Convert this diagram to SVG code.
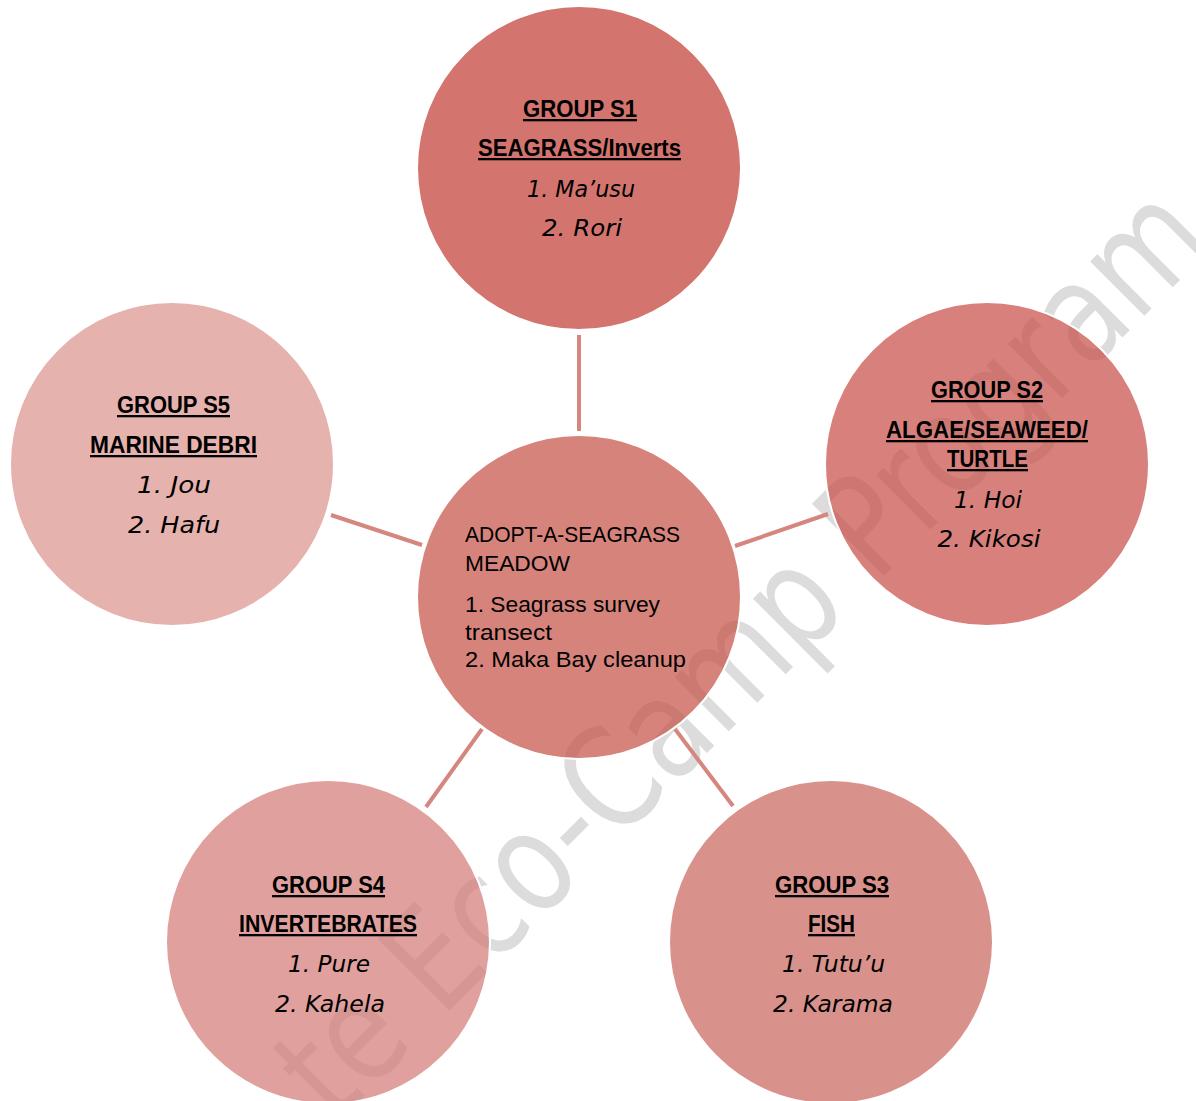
<svg xmlns="http://www.w3.org/2000/svg" width="1196" height="1101" viewBox="0 0 1196 1101">
<style>
.node circle { stroke: #ffffff; stroke-width: 2; fill-opacity: 0.7; }
.hd { font-family: "Liberation Sans", Arial, sans-serif; font-weight: bold; font-size: 23px; fill: #000; text-anchor: middle; text-decoration: underline; }
.nm { font-family: "DejaVu Sans", "Liberation Sans", sans-serif; font-style: italic; font-size: 23px; fill: #000; text-anchor: middle; }
.ct { font-family: "Liberation Sans", Arial, sans-serif; font-size: 22.5px; fill: #000; }
.conn line { stroke: #d4867f; stroke-width: 4; }
.wm { font-family: "DejaVu Sans", sans-serif; font-size: 140px; fill: #dcdcdc; }
</style>
<rect width="1196" height="1101" fill="#ffffff"/>
<text class="wm" transform="translate(335,1125) rotate(-45)" textLength="1245" lengthAdjust="spacingAndGlyphs">te Eco-Camp Program</text>
<g id="connectors" class="conn">
  <line x1="579" y1="335" x2="579" y2="431"/>
  <line x1="331" y1="515" x2="422" y2="545"/>
  <line x1="735" y1="546" x2="828" y2="514"/>
  <line x1="482" y1="729" x2="426" y2="807"/>
  <line x1="675" y1="729" x2="733" y2="806"/>
</g>
<g id="node-s1" class="node">
  <circle cx="579" cy="168" r="162" fill="#c13a31"/>
  <text class="hd" x="580" y="117" textLength="114" lengthAdjust="spacingAndGlyphs">GROUP S1</text>
  <text class="hd" x="579.5" y="156" textLength="203" lengthAdjust="spacingAndGlyphs">SEAGRASS/Inverts</text>
  <text class="nm" x="581" y="197" textLength="108" lengthAdjust="spacingAndGlyphs">1. Ma’usu</text>
  <text class="nm" x="582" y="236" textLength="80" lengthAdjust="spacingAndGlyphs">2. Rori</text>
</g>
<g id="node-center" class="node">
  <circle cx="579" cy="597" r="162" fill="#c44e45"/>
  <text class="ct" x="465" y="542" textLength="215" lengthAdjust="spacingAndGlyphs">ADOPT-A-SEAGRASS</text>
  <text class="ct" x="465" y="571" textLength="105" lengthAdjust="spacingAndGlyphs">MEADOW</text>
  <text class="ct" x="465" y="612" textLength="195" lengthAdjust="spacingAndGlyphs">1. Seagrass survey</text>
  <text class="ct" x="465" y="640" textLength="87" lengthAdjust="spacingAndGlyphs">transect</text>
  <text class="ct" x="465" y="667" textLength="221" lengthAdjust="spacingAndGlyphs">2. Maka Bay cleanup</text>
</g>
<g id="node-s2" class="node">
  <circle cx="987" cy="464" r="162" fill="#c74c44"/>
  <text class="hd" x="987" y="398" textLength="112" lengthAdjust="spacingAndGlyphs">GROUP S2</text>
  <text class="hd" x="987" y="438" textLength="202" lengthAdjust="spacingAndGlyphs">ALGAE/SEAWEED/</text>
  <text class="hd" x="987.5" y="467" textLength="81" lengthAdjust="spacingAndGlyphs">TURTLE</text>
  <text class="nm" x="988" y="508" textLength="68" lengthAdjust="spacingAndGlyphs">1. Hoi</text>
  <text class="nm" x="989" y="547" textLength="103" lengthAdjust="spacingAndGlyphs">2. Kikosi</text>
</g>
<g id="node-s5" class="node">
  <circle cx="172" cy="464" r="162" fill="#db928b"/>
  <text class="hd" x="173.5" y="413" textLength="113" lengthAdjust="spacingAndGlyphs">GROUP S5</text>
  <text class="hd" x="173.5" y="453" textLength="167" lengthAdjust="spacingAndGlyphs">MARINE DEBRI</text>
  <text class="nm" x="174" y="493" textLength="74" lengthAdjust="spacingAndGlyphs">1. Jou</text>
  <text class="nm" x="174" y="533" textLength="92" lengthAdjust="spacingAndGlyphs">2. Hafu</text>
</g>
<g id="node-s4" class="node">
  <circle cx="328" cy="942" r="162" fill="#d37975"/>
  <text class="hd" x="328.5" y="893" textLength="113" lengthAdjust="spacingAndGlyphs">GROUP S4</text>
  <text class="hd" x="328" y="932" textLength="178" lengthAdjust="spacingAndGlyphs">INVERTEBRATES</text>
  <text class="nm" x="329" y="972" textLength="82" lengthAdjust="spacingAndGlyphs">1. Pure</text>
  <text class="nm" x="330" y="1012" textLength="110" lengthAdjust="spacingAndGlyphs">2. Kahela</text>
</g>
<g id="node-s3" class="node">
  <circle cx="831" cy="942" r="162" fill="#c9625b"/>
  <text class="hd" x="832" y="893" textLength="114" lengthAdjust="spacingAndGlyphs">GROUP S3</text>
  <text class="hd" x="831.5" y="932" textLength="47" lengthAdjust="spacingAndGlyphs">FISH</text>
  <text class="nm" x="833.5" y="972" textLength="103" lengthAdjust="spacingAndGlyphs">1. Tutu’u</text>
  <text class="nm" x="833" y="1012" textLength="120" lengthAdjust="spacingAndGlyphs">2. Karama</text>
</g>
</svg>
